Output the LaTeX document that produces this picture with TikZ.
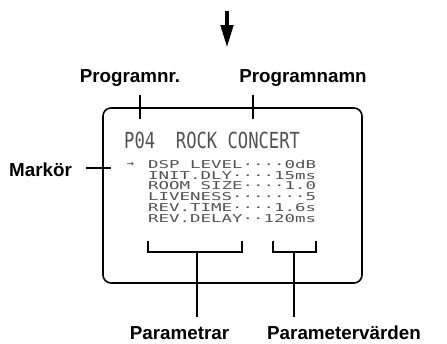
\documentclass[tikz,border=0pt]{standalone}
\usepackage{fontspec}
\setmainfont{Liberation Sans}
\newfontfamily\lcdfont{DejaVu Sans Mono}
\usetikzlibrary{arrows.meta}
\tikzset{
  lbl/.style={font=\fontsize{18.8}{22}\selectfont\bfseries, inner sep=0pt},
  lcdsmall/.style={font=\fontsize{17.44}{20}\lcdfont, text=black!68, inner sep=0pt, anchor=base west},
  lcdbig/.style={font=\fontsize{17.44}{20}\lcdfont, text=black!68, inner sep=0pt, anchor=base west},
  frame/.style={draw, line width=1.6pt, rounded corners=8pt, inner sep=0pt, outer sep=0pt},
  tick/.style={line width=1.8pt},
  brk/.style={line width=2.6pt},
  stem/.style={line width=2pt},
}
\newcommand{\sm}[1]{\scalebox{1}[0.62]{#1}}
\newcommand{\bg}[1]{\scalebox{0.985}[1.27]{#1}}
\begin{document}
\begin{tikzpicture}[x=1pt,y=-1pt]
\useasboundingbox (0,0) rectangle (447,343);
% big arrow
\coordinate (atop) at (227,11);
\coordinate (atip) at (227,48);
\draw[line width=4.5pt, -{Triangle[width=12pt,length=23pt]}] (atop) -- (atip);
% display frame
\node[frame, minimum width=259pt, minimum height=175pt, anchor=north west] (lcd) at (103,108) {};
% labels top
\node[lbl, anchor=base] (pnr) at (130,82) {Programnr.};
\node[lbl, anchor=base] (pnamn) at (303,82) {Programnamn};
\coordinate (t1a) at (140,95);
\coordinate (t1b) at (140,119);
\coordinate (t2a) at (253,95);
\coordinate (t2b) at (253,119);
\draw[tick] (t1a) -- (t1b);
\draw[tick] (t2a) -- (t2b);
% Markoer
\node[lbl, anchor=base west] (mark) at (9,176) {Markör};
\coordinate (m1) at (86,168);
\coordinate (m2) at (111,168);
\draw[line width=1.5pt] (m1) -- (m2);
% LCD title
\node[lcdbig] (title) at (124,148) {\bg{P04\ \ ROCK CONCERT}};
% cursor arrow
\node[font=\fontsize{12}{12}\lcdfont, text=black!68, inner sep=0pt] (cur) at (130.5,164.5) {→};
% parameter lines
\node[lcdsmall] (l1) at (148,168.5) {\sm{DSP LEVEL····0dB}};
\node[lcdsmall] (l2) at (148,179.2) {\sm{INIT.DLY····15ms}};
\node[lcdsmall] (l3) at (148,189.9) {\sm{ROOM SIZE····1.0}};
\node[lcdsmall] (l4) at (148,200.6) {\sm{LIVENESS·······5}};
\node[lcdsmall] (l5) at (148,211.3) {\sm{REV.TIME····1.6s}};
\node[lcdsmall] (l6) at (148,222.0) {\sm{REV.DELAY··120ms}};
% brackets
\coordinate (b1l) at (148,241);
\coordinate (b1r) at (242,241);
\coordinate (b1m) at (197,252);
\coordinate (b2l) at (273,241);
\coordinate (b2r) at (316,241);
\coordinate (b2m) at (294,252);
\draw[brk] (b1l) |- (b1r |- b1m) -- (b1r);
\draw[brk] (b2l) |- (b2r |- b2m) -- (b2r);
% labels bottom
\node[lbl, anchor=base] (par) at (179.5,339) {Parametrar};
\node[lbl, anchor=base west] (parv) at (267,339) {Parametervärden};
\coordinate (s1) at (197,317);
\coordinate (s2) at (294,317);
\draw[stem] (b1m) -- (s1);
\draw[stem] (b2m) -- (s2);
\end{tikzpicture}
\end{document}
